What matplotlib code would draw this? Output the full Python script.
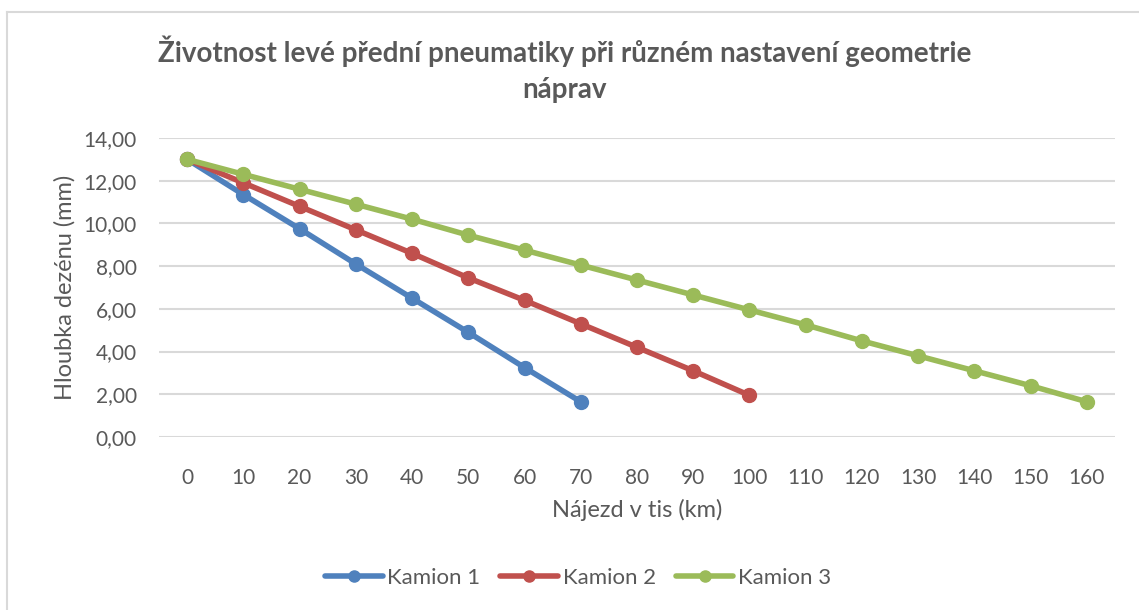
import matplotlib
matplotlib.use("Agg")
import matplotlib.pyplot as plt
from matplotlib.lines import Line2D
from matplotlib.ticker import FuncFormatter

# najezd v tis. km (kategorie)
najezd = [0, 10, 20, 30, 40, 50, 60, 70, 80, 90, 100, 110, 120, 130, 140, 150, 160]

kamion1 = [13.0, 11.35, 9.75, 8.1, 6.5, 4.9, 3.25, 1.65]
kamion2 = [13.0, 11.9, 10.8, 9.7, 8.6, 7.45, 6.4, 5.3, 4.2, 3.1, 1.95]
kamion3 = [13.0, 12.3, 11.6, 10.9, 10.2, 9.45, 8.75, 8.05, 7.35, 6.65, 5.95,
           5.25, 4.5, 3.8, 3.1, 2.4, 1.65]

names = ["Kamion 1", "Kamion 2", "Kamion 3"]
colors = ["#4f81bd", "#c0504d", "#9bbb59"]

plt.rcParams['font.family'] = ['Lato', 'DejaVu Sans']
text_col = "#595959"

fig = plt.figure(figsize=(11.39, 6.10), dpi=100)
ax = fig.add_axes([159 / 1139, 1 - 437 / 610, 956 / 1139, 299 / 610])

# ramecek grafu
fig.add_artist(Line2D([7 / 1139, 7 / 1139], [0, 1 - 12 / 610], transform=fig.transFigure,
                      color="#d9d9d9", lw=1.5))
fig.add_artist(Line2D([7 / 1139, 1], [1 - 12 / 610, 1 - 12 / 610], transform=fig.transFigure,
                      color="#d9d9d9", lw=1.5))

# kreslime do poradi kategorii, jako v Excelu
for vals, name, c in zip([kamion1, kamion2, kamion3], names, colors):
    ax.plot(range(len(vals)), vals, color=c, lw=4, marker="o", ms=10,
            solid_capstyle="round", label=name)

ax.set_xlim(-0.5, len(najezd) - 0.5)
ax.set_ylim(0, 14)
ax.set_xticks(range(len(najezd)))
ax.set_xticklabels([str(v) for v in najezd])
ax.set_yticks(range(0, 15, 2))
ax.yaxis.set_major_formatter(FuncFormatter(lambda v, p: f"{v:.2f}".replace(".", ",")))

ax.grid(axis="y", color="#d9d9d9", lw=1.5)
ax.set_axisbelow(True)
for s in ax.spines.values():
    s.set_visible(False)
ax.tick_params(length=0, labelsize=15, colors=text_col)
ax.tick_params(axis="x", pad=22)
ax.tick_params(axis="y", pad=16)

ax.set_xlabel("Nájezd v tis (km)", fontsize=17, color=text_col, labelpad=8)
ax.set_ylabel("Hloubka dezénu (mm)", fontsize=17, color=text_col, labelpad=6)

fig.text(565 / 1139, 1 - 51 / 610, "Životnost levé přední pneumatiky při různém nastavení geometrie",
         ha="center", va="center", fontsize=20, fontweight="bold", color=text_col)
fig.text(565 / 1139, 1 - 90 / 610, "náprav",
         ha="center", va="center", fontsize=20, fontweight="bold", color=text_col)

fig.legend(loc="center", bbox_to_anchor=(578 / 1139, 1 - 578 / 610), ncol=3, frameon=False,
           fontsize=16, labelcolor=text_col, handlelength=2.6, handletextpad=0.2,
           columnspacing=0.9, markerscale=0.8)

fig.savefig("out.png", dpi=100, facecolor="white")
